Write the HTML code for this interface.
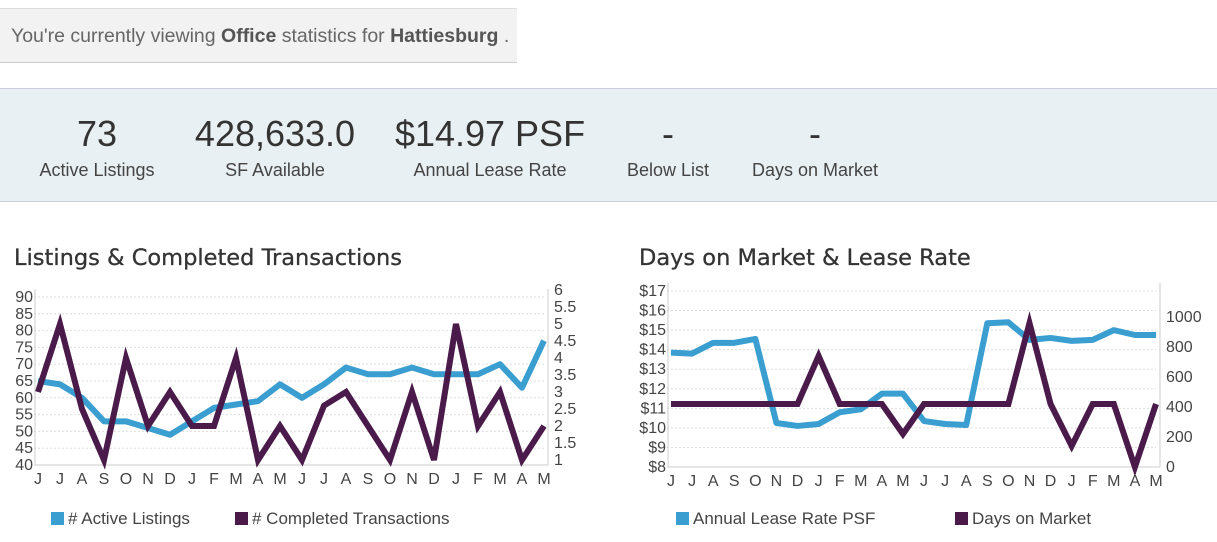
<!DOCTYPE html>
<html><head><meta charset="utf-8"><style>
body{margin:0;width:1217px;height:542px;background:#fff;font-family:"Liberation Sans",sans-serif;position:relative;overflow:hidden}
.abs{position:absolute}
#notice{left:0;top:8px;width:517px;height:55px;background:#f2f2f2;border-top:1px solid #ddd;border-bottom:1px solid #ccc;box-sizing:border-box;color:#666;font-size:19.5px;line-height:54px;padding-left:11px;white-space:nowrap;overflow:hidden}
#notice b{color:#555}
#band{left:0;top:88px;width:1217px;height:114px;background:#e8f0f3;border-top:1px solid #ccd;border-bottom:1px solid #ccd;box-sizing:border-box}
.stat{position:absolute;top:25px;text-align:center;color:#333}
.stat .v{font-size:36px;line-height:40px}
.stat .l{font-size:18px;color:#444;margin-top:6px}
.title{font-family:"DejaVu Sans",sans-serif;font-size:22.5px;color:#333;top:245px;-webkit-text-stroke:0.3px #333}
svg{position:absolute;left:0;top:0}
.leg{font-size:17px;color:#444;top:509px}
.sw{display:inline-block;width:13px;height:13px;margin-right:4px;vertical-align:-1px}
</style></head><body>
<div class="abs" id="notice">You're currently viewing <b>Office</b> statistics for <b>Hattiesburg</b> .</div>
<div class="abs" id="band">
<div class="stat" style="left:22px;width:150px"><div class="v">73</div><div class="l">Active Listings</div></div>
<div class="stat" style="left:185px;width:180px"><div class="v">428,633.0</div><div class="l">SF Available</div></div>
<div class="stat" style="left:390px;width:200px"><div class="v">$14.97 PSF</div><div class="l">Annual Lease Rate</div></div>
<div class="stat" style="left:618px;width:100px"><div class="v">-</div><div class="l">Below List</div></div>
<div class="stat" style="left:745px;width:140px"><div class="v">-</div><div class="l">Days on Market</div></div>
</div>
<div class="abs title" style="left:14px">Listings &amp; Completed Transactions</div>
<div class="abs title" style="left:639px">Days on Market &amp; Lease Rate</div>
<svg id="chart" width="1217" height="542"></svg>
<div class="abs leg" style="left:51px"><span class="sw" style="background:#3a9fd0"></span># Active Listings</div>
<div class="abs leg" style="left:235px"><span class="sw" style="background:#4a1a4a"></span># Completed Transactions</div>
<div class="abs leg" style="left:676px"><span class="sw" style="background:#3a9fd0"></span>Annual Lease Rate PSF</div>
<div class="abs leg" style="left:955px"><span class="sw" style="background:#4a1a4a"></span>Days on Market</div>
<script>
const months=["J","J","A","S","O","N","D","J","F","M","A","M","J","J","A","S","O","N","D","J","F","M","A","M"];
const activeListings=[65,64,60,53,53,51,49,53,57,58,59,64,60,64,69,67,67,69,67,67,67,70,63,77];
const transactions=[3,5,2.5,1,4,2,3,2,2,4,1,2,1,2.6,3,2,1,3,1,5,2,3,1,2];
const leaseRate=[13.85,13.8,14.35,14.35,14.55,10.25,10.1,10.2,10.8,10.95,11.75,11.75,10.35,10.2,10.15,15.35,15.4,14.5,14.6,14.45,14.5,15.0,14.75,14.75];
const daysOnMarket=[420,420,420,420,420,420,420,740,420,420,420,220,420,420,420,420,420,960,420,140,420,420,0,420];
const leftTicks1=[40,45,50,55,60,65,70,75,80,85,90];
const rightTicks1=[1,1.5,2,2.5,3,3.5,4,4.5,5,5.5,6];
const leftTicks2=[8,9,10,11,12,13,14,15,16,17];
const rightTicks2=[0,200,400,600,800,1000];
const svg=document.getElementById('chart');
const NS='http://www.w3.org/2000/svg';
function mk(t,a,txt){const e=document.createElementNS(NS,t);for(const k in a)e.setAttribute(k,a[k]);if(txt!==undefined)e.textContent=txt;svg.appendChild(e);return e;}
function lin(d0,d1,r0,r1){return v=>r0+(v-d0)*(r1-r0)/(d1-d0);}
function chart(o){
 const x=i=>o.x0+i*(o.x1-o.x0)/(months.length-1);
 const yl=lin(o.l0,o.l1,o.yb,o.yt), yr=lin(o.r0,o.r1,o.rb,o.rt);
 o.lt.forEach(v=>{const y=yl(v);
  let g=mk('line',{x1:o.x0-4,x2:o.x1,y1:y,y2:y,stroke:'#ddd','stroke-dasharray':'2,2'});
  
  let t=mk('text',{x:o.x0-5,y:y+5,'text-anchor':'end','font-size':16,fill:'#444'},o.fmtL(v));
  });
 o.rt2.forEach(v=>{const y=yr(v);
  let t=mk('text',{x:o.x1+10,y:y+5,'font-size':16,fill:'#444'},String(v));
  });
 mk('line',{x1:o.x0-3,x2:o.x0-3,y1:o.yt-8,y2:o.yb,stroke:'#ccc'});
 mk('line',{x1:o.x1+4,x2:o.x1+4,y1:o.yt-8,y2:o.yb,stroke:'#ccc'});
 mk('line',{x1:o.x0-3,x2:o.x1+4,y1:o.yb,y2:o.yb,stroke:'#ccc'});
 months.forEach((m,i)=>{let t=mk('text',{x:x(i),y:o.yb+19,'text-anchor':'middle','font-size':16,fill:'#444'},m);
  });
 let p1=mk('polyline',{points:o.ld.map((v,i)=>x(i)+','+yl(v)).join(' '),fill:'none',stroke:'#3a9fd0','stroke-width':6,'stroke-linejoin':'round'});
 
 let p2=mk('polyline',{points:o.rd.map((v,i)=>x(i)+','+yr(v)).join(' '),fill:'none',stroke:'#4a1a4a','stroke-width':6,'stroke-linejoin':'miter'});
 
}
chart({x0:38,x1:544,yb:465,yt:297,l0:40,l1:90,lt:leftTicks1,fmtL:v=>String(v),rb:460,rt:290,r0:1,r1:6,rt2:rightTicks1,ld:activeListings,rd:transactions,n1:'active-listings-line',n2:'completed-transactions-line'});
chart({x0:671,x1:1156,yb:467,yt:291,l0:8,l1:17,lt:leftTicks2,fmtL:v=>'$'+v,rb:467,rt:317,r0:0,r1:1000,rt2:rightTicks2,ld:leaseRate,rd:daysOnMarket,n1:'lease-rate-line',n2:'days-on-market-line'});
</script>
</body></html>
